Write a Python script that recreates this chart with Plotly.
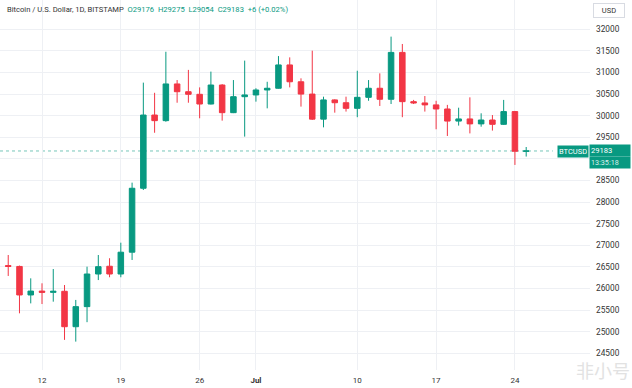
import plotly.graph_objects as go

dates = ["2023-06-09","2023-06-10","2023-06-11","2023-06-12","2023-06-13","2023-06-14","2023-06-15",
         "2023-06-16","2023-06-17","2023-06-18","2023-06-19","2023-06-20","2023-06-21","2023-06-22",
         "2023-06-23","2023-06-24","2023-06-25","2023-06-26","2023-06-27","2023-06-28","2023-06-29",
         "2023-06-30","2023-07-01","2023-07-02","2023-07-03","2023-07-04","2023-07-05","2023-07-06",
         "2023-07-07","2023-07-08","2023-07-09","2023-07-10","2023-07-11","2023-07-12","2023-07-13",
         "2023-07-14","2023-07-15","2023-07-16","2023-07-17","2023-07-18","2023-07-19","2023-07-20",
         "2023-07-21","2023-07-22","2023-07-23","2023-07-24","2023-07-25"]
opens = [26530,26510,25850,25940,25910,25935,25115,25580,26335,26515,26335,26840,28320,30015,
         29885,30735,30555,30495,30270,30710,30070,30440,30480,30595,30635,31175,30785,30500,
         29920,30365,30300,30170,30425,30635,30380,31465,30325,30295,30250,30155,29875,29925,
         29810,29900,29800,30095,29176]
highs = [26775,26530,26235,26120,26450,26080,25735,26505,26775,26700,27060,28450,30765,30530,
         31480,30825,31060,30655,31020,30730,30825,31275,30635,30785,31380,31350,30865,31505,
         30440,30380,30440,31040,30825,30980,31830,31660,30365,30455,30345,30250,30185,30425,
         30055,30015,30365,30110,29275]
lows = [26290,25425,25655,25640,25695,24810,24770,25220,26195,26260,26260,26660,28280,29605,
        29860,30300,30300,29940,30260,29885,30060,29515,30325,30170,30625,30655,30210,29900,
        29730,30070,30095,29965,30345,30225,30270,29965,30270,30095,29685,29530,29770,29590,
        29745,29655,29785,28860,29054]
closes = [26510,25850,25940,25910,25935,25115,25580,26335,26505,26335,26840,28320,30015,29885,
          30735,30555,30495,30270,30710,30070,30440,30480,30595,30635,31175,30785,30500,29920,
          30365,30300,30170,30425,30635,30380,31465,30325,30295,30250,30155,29875,29925,29810,
          29900,29800,30095,29176,29183]

x_tick_vals = ["2023-06-12","2023-06-19","2023-06-26","2023-07-01","2023-07-10","2023-07-17","2023-07-24"]
x_tick_text = ["12","19","26","<b>Jul</b>","10","17","24"]
y_tick_vals = [24500,25000,25500,26000,26500,27000,27500,28000,28500,29000,29500,30000,30500,31000,31500,32000]
# the 29000 label is hidden behind the last-price badge in the reference
y_tick_text = ["24500","25000","25500","26000","26500","27000","27500","28000","28500","",
               "29500","30000","30500","31000","31500","32000"]
last_price = 29183
last_price_text = "29183"
countdown_text = "13:35:18"
header_title = "Bitcoin / U.S. Dollar, 1D, BITSTAMP"
header_ohlc = "O29176  H29275  L29054  C29183  +6 (+0.02%)"

GREEN = "#089981"
RED = "#f23645"
FONT = "Roboto"

fig = go.Figure(go.Candlestick(
    x=dates, open=opens, high=highs, low=lows, close=closes,
    increasing=dict(line=dict(color=GREEN, width=1), fillcolor=GREEN),
    decreasing=dict(line=dict(color=RED, width=1), fillcolor=RED),
    whiskerwidth=0, hoverinfo="skip", showlegend=False,
))

fig.add_shape(type="line", xref="paper", yref="y", x0=0, x1=0.937, y0=last_price, y1=last_price,
              line=dict(color="rgba(8,153,129,0.55)", width=1, dash="dot"), layer="below")

fig.update_layout(
    width=632, height=388,
    margin=dict(l=0, r=42, t=0, b=18),
    paper_bgcolor="white", plot_bgcolor="white",
    font=dict(family=FONT, size=8, color="#333333"),
    xaxis=dict(
        range=["2023-06-08 06:29", "2023-07-30 16:00"],
        rangeslider=dict(visible=False),
        tickmode="array", tickvals=x_tick_vals, ticktext=x_tick_text,
        showgrid=True, gridcolor="#eef0f4", gridwidth=1,
        zeroline=False, showline=False, ticks="",
        ticklabelstandoff=4,
        tickfont=dict(family=FONT, size=8, color="#333333"),
        fixedrange=True,
    ),
    yaxis=dict(
        side="right", range=[24113, 32678],
        tickmode="array", tickvals=y_tick_vals, ticktext=y_tick_text,
        showgrid=True, gridcolor="#eef0f4", gridwidth=1,
        zeroline=False, showline=False, ticks="",
        ticklabelstandoff=5,
        tickfont=dict(family=FONT, size=8.3, color="#333333"),
        fixedrange=True,
    ),
    annotations=[
        dict(xref="paper", yref="paper", x=0, y=1, xshift=5, yshift=-3, xanchor="left", yanchor="top",
             showarrow=False, align="left",
             text=f"<span style='color:#333333'>{header_title}</span>  <span style='color:{GREEN}'>{header_ohlc}</span>",
             font=dict(family=FONT, size=7.6)),
        dict(xref="paper", yref="paper", x=1, y=1, xshift=3, yshift=-3, xanchor="left", yanchor="top",
             showarrow=False, text="USD", font=dict(family=FONT, size=7.5, color="#333333"),
             bordercolor="#d8dbe2", borderwidth=1, borderpad=2, width=26, bgcolor="white"),
        dict(xref="paper", yref="y", x=1, y=last_price, xshift=-1, yshift=6, xanchor="right", yanchor="top",
             showarrow=False, text="BTCUSD", font=dict(family=FONT, size=7.5, color="white"),
             bgcolor=GREEN, borderpad=1, height=9),
        dict(xref="paper", yref="y", x=1, y=last_price, xshift=-1, yshift=7, xanchor="left", yanchor="top",
             showarrow=False, text=last_price_text, align="left", font=dict(family=FONT, size=7.6, color="white"),
             bgcolor=GREEN, borderpad=1, width=38, height=9),
        dict(xref="paper", yref="y", x=1, y=last_price, xshift=-1, yshift=-5, xanchor="left", yanchor="top",
             showarrow=False, text=countdown_text, align="left", font=dict(family=FONT, size=7.2, color="#d8f0ea"),
             bgcolor=GREEN, borderpad=1, width=38, height=9),
        dict(xref="paper", yref="paper", x=1, y=0, xshift=42, yshift=0, xanchor="right", yanchor="middle",
             showarrow=False, text="非小号", font=dict(family="Noto Sans CJK SC", size=18, color="#e2e2e2")),
    ],
)

fig.write_html("out.html", config={"displayModeBar": False},
               post_script="document.body.style.margin='0';document.body.style.overflow='hidden';")
